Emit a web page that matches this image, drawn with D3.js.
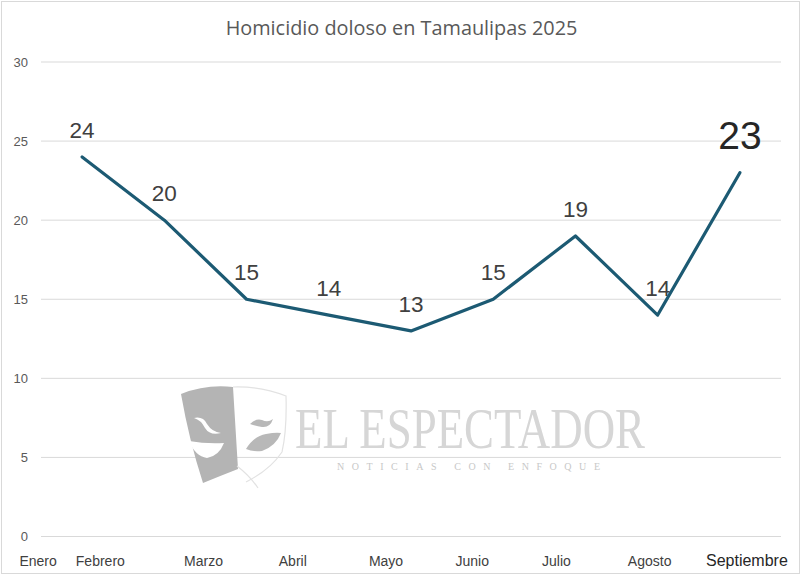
<!doctype html>
<html>
<head>
<meta charset="utf-8" />
<title>Homicidio doloso en Tamaulipas 2025</title>
<style>
	body { margin: 0; background: #fff; }
	svg { display: block; font-family: "Liberation Sans", Arial, sans-serif; }
	.grid line { stroke: #d9d9d9; stroke-width: 1; }
	.ytick { fill: #595959; font-size: 13px; }
	.xtick { fill: #404040; font-size: 14px; }
	.val { fill: #404040; font-size: 22.5px; }
</style>
</head>
<body>
<div id="app"></div>
<script src="https://cdn.jsdelivr.net/npm/d3@7/dist/d3.min.js"></script>
<script>
// data
const months = ['Enero', 'Febrero', 'Marzo', 'Abril', 'Mayo', 'Junio', 'Julio', 'Agosto', 'Septiembre'];
const homicidios = [24, 20, 15, 14, 13, 15, 19, 14, 23];
const yTicks = [0, 5, 10, 15, 20, 25, 30];
const title = 'Homicidio doloso en Tamaulipas 2025';

// layout
const W = 802, H = 576;
const plot = { left: 41, right: 781, top: 62, bottom: 536.5 };
// month names sit off their slots in the source picture
const labelNudge = [-44, -64, -43, -36, -25, -21, -19, -8, 7];

const svg = d3.select('#app').append('svg').attr('width', W).attr('height', H);

svg.append('rect')
	.attr('x', 1.5).attr('y', 1.5).attr('width', W - 4).attr('height', H - 4)
	.attr('fill', '#fff').attr('stroke', '#d9d9d9');

const x = d3.scaleBand().domain(months).range([plot.left, plot.right]).padding(0);
const y = d3.scaleLinear().domain([0, 30]).range([plot.bottom, plot.top]);
const cx = m => x(m) + x.bandwidth() / 2;

// gridlines
svg.append('g').attr('class', 'grid')
	.selectAll('line').data(yTicks).join('line')
	.attr('x1', plot.left).attr('x2', plot.right)
	.attr('y1', d => y(d)).attr('y2', d => y(d));

// y axis labels
const yAxis = svg.append('g').attr('transform', `translate(${plot.left - 13},0)`)
	.call(d3.axisLeft(y).tickValues(yTicks).tickSize(0).tickPadding(0));
yAxis.select('.domain').remove();
yAxis.selectAll('text').attr('class', 'ytick').attr('font-family', null).attr('font-size', null).attr('fill', null);

// x axis labels
const xAxis = svg.append('g').attr('transform', `translate(0,${plot.bottom})`)
	.call(d3.axisBottom(x).tickSize(0).tickPadding(0));
xAxis.select('.domain').remove();
xAxis.selectAll('.tick text')
	.attr('class', 'xtick').attr('font-family', null).attr('font-size', null).attr('fill', null)
	.attr('dy', null).attr('y', 29.5)
	.attr('x', (d, i) => labelNudge[i]);
xAxis.selectAll('.tick text').filter(d => d === 'Septiembre')
	.style('font-size', '16px').style('fill', '#262626');

// watermark
const wm = svg.append('g');
wm.append('path')
	.attr('d', 'M181,394 Q206,384 233,387 L238,469 Q220,476 203,483 Q189,440 181,394 Z')
	.attr('fill', '#b4b4b4');
wm.append('path')
	.attr('d', 'M194,418 Q203,416 207,424 Q212,432 221,433 Q210,436 205,428 Q201,420 194,418 Z')
	.attr('fill', '#fff');
wm.append('path')
	.attr('d', 'M189,441 Q206,444 224,443 Q219,456 207,458 Q195,456 189,441 Z')
	.attr('fill', '#fff');
wm.append('path')
	.attr('d', 'M233,387 Q260,386 286,396 Q287,430 282,452 Q270,470 246,482 M237,466 Q250,476 258,488')
	.attr('fill', 'none').attr('stroke', '#e2e2e2').attr('stroke-width', 1.2);
wm.append('path')
	.attr('d', 'M250,424 Q256,418 262,420 Q268,423 273,419 Q270,428 262,427 Q256,426 250,424 Z')
	.attr('fill', '#b8b8b8');
wm.append('path')
	.attr('d', 'M246,449 Q254,436 266,434 Q276,432 281,433 Q276,446 262,451 Q252,452 246,449 Z')
	.attr('fill', '#b8b8b8');
wm.append('text')
	.attr('x', 295).attr('y', 448)
	.attr('textLength', 350).attr('lengthAdjust', 'spacingAndGlyphs')
	.attr('font-family', '"Liberation Serif", "DejaVu Serif", serif')
	.attr('font-size', 57).attr('fill', '#d6d6d6')
	.text('EL ESPECTADOR');
wm.append('text')
	.attr('x', 337).attr('y', 470)
	.attr('textLength', 263).attr('lengthAdjust', 'spacing')
	.attr('font-family', '"Liberation Serif", "DejaVu Serif", serif')
	.attr('font-size', 10).attr('fill', '#c8c8c8')
	.text('NOTICIAS  CON  ENFOQUE');

// line
const line = d3.line().x((d, i) => cx(months[i])).y(d => y(d));
svg.append('path')
	.datum(homicidios)
	.attr('d', line)
	.attr('fill', 'none')
	.attr('stroke', '#1c5a73')
	.attr('stroke-width', 3.2)
	.attr('stroke-linejoin', 'round')
	.attr('stroke-linecap', 'round');

// value labels
const last = homicidios.length - 1;
svg.append('g').selectAll('text').data(homicidios).join('text')
	.attr('class', 'val')
	.attr('text-anchor', 'middle')
	.attr('x', (d, i) => cx(months[i]))
	.attr('y', (d, i) => y(d) - (i === last ? 24 : 19))
	.style('font-size', (d, i) => i === last ? '39px' : null)
	.style('fill', (d, i) => i === last ? '#262626' : null)
	.text(d => d);

// title, fitted to the width it has in the picture
const t = svg.append('text')
	.attr('x', W / 2 + 0.5).attr('y', 35)
	.attr('text-anchor', 'middle')
	.attr('font-family', '"Open Sans", "Noto Sans", sans-serif')
	.attr('font-size', 19).attr('fill', '#595959')
	.text(title);
const tw = t.node().getComputedTextLength();
t.attr('font-size', 19 * 352 / tw);
</script>
</body>
</html>
